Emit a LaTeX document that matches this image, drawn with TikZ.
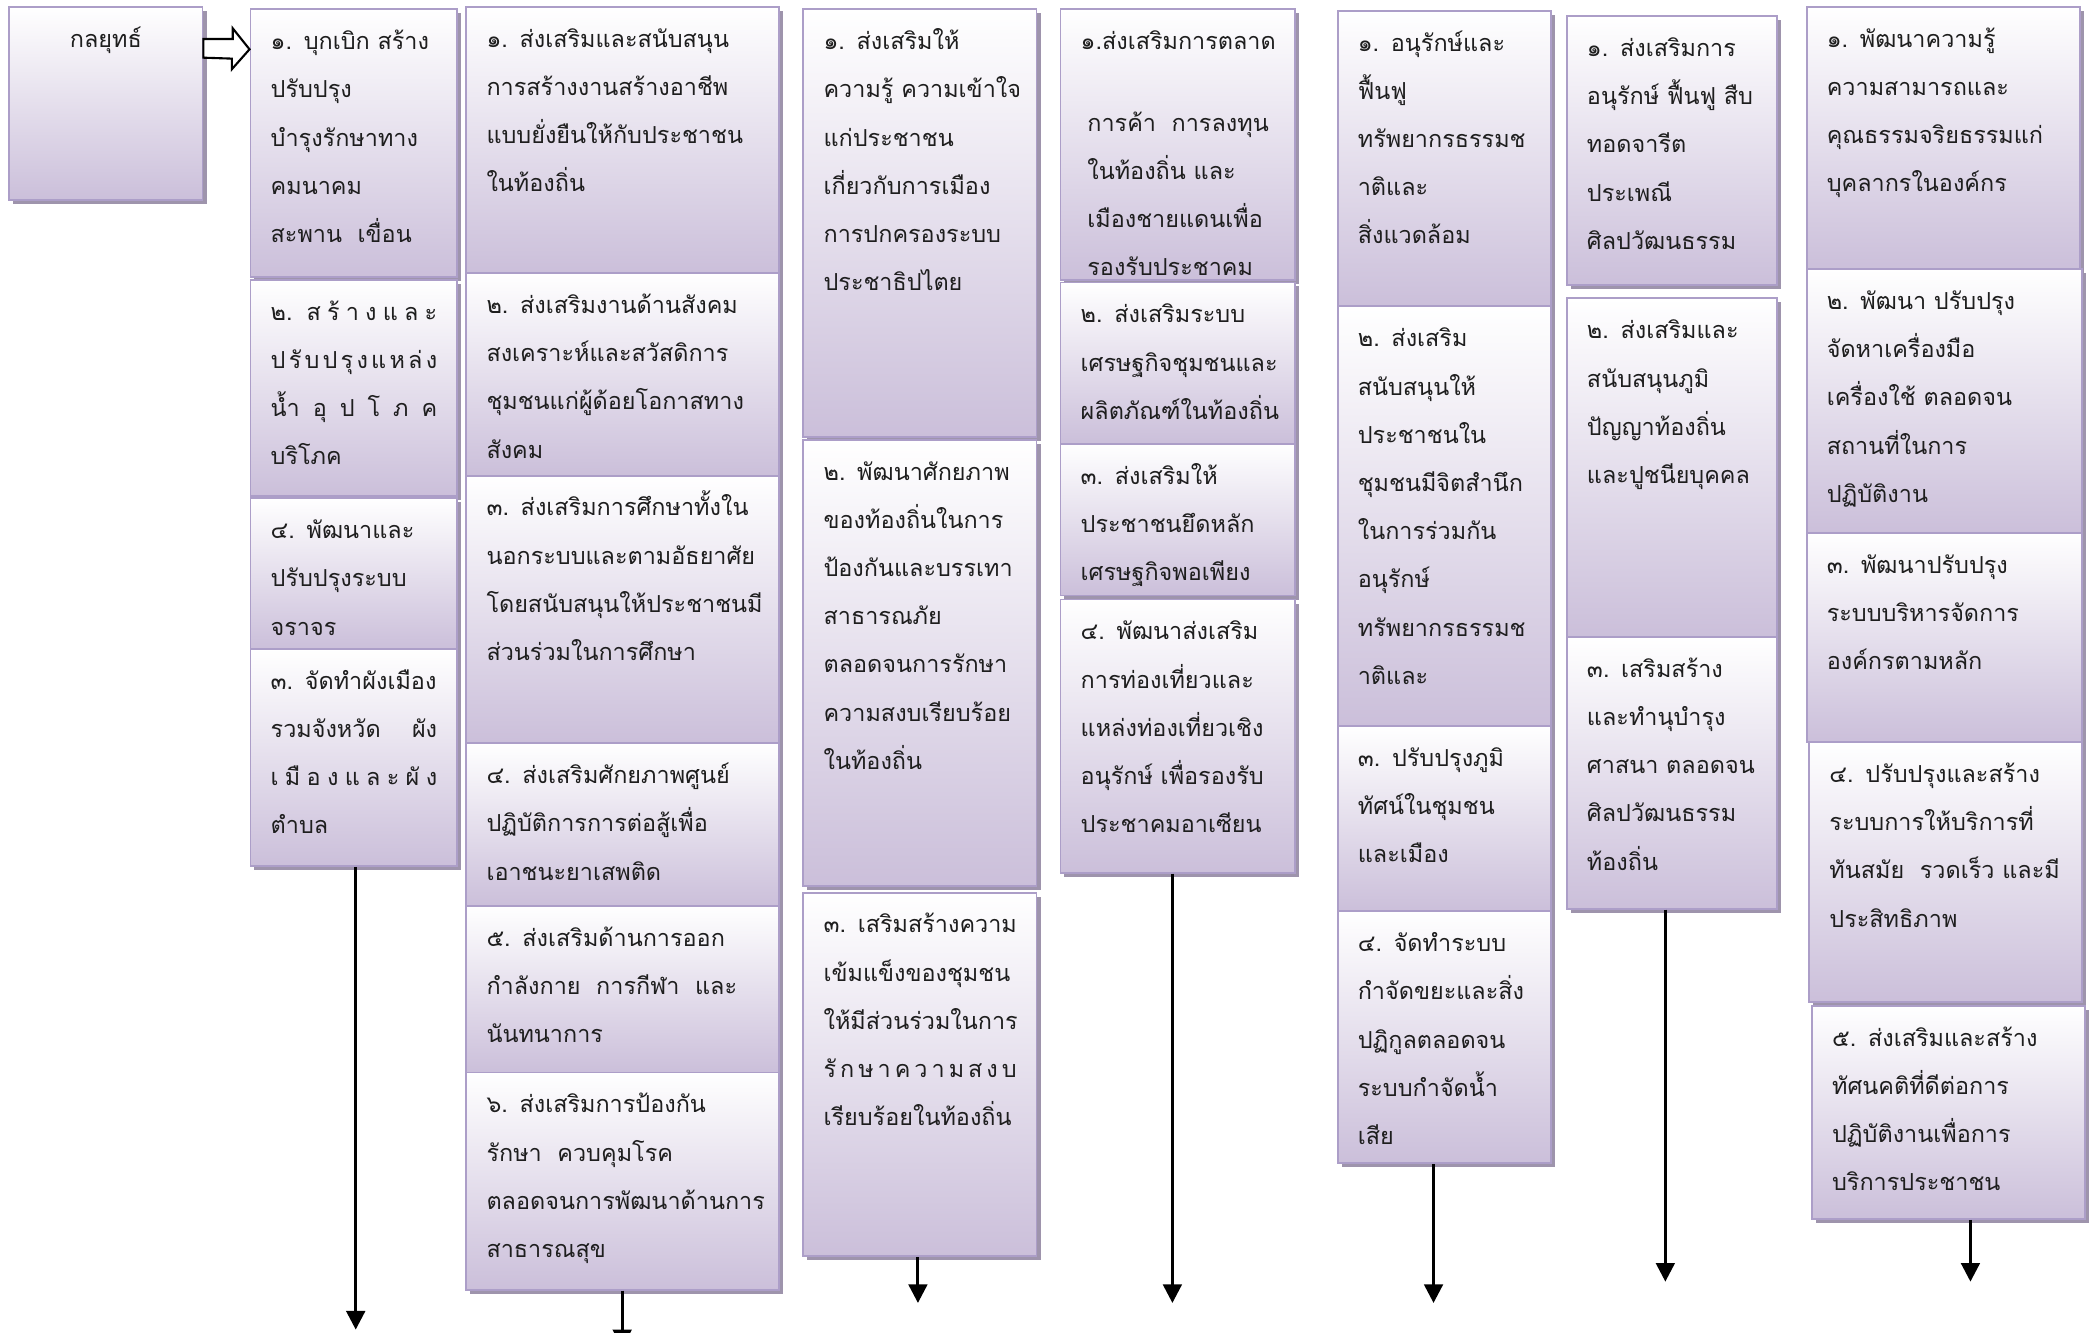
\documentclass[tikz,border=0pt]{standalone}
\usepackage{fontspec}
\newfontfamily\thaifont[Script=Thai]{Loma}
\usetikzlibrary{fit,shadows,arrows.meta}
\definecolor{boxbot}{RGB}{203,191,218}
\definecolor{boxline}{RGB}{172,158,200}
\definecolor{shadowc}{RGB}{158,148,172}
\definecolor{txtc}{RGB}{30,30,30}
\tikzset{
every picture/.style={
line width=1pt
},
tbox/.style={draw=boxline, line width=0.8pt, top color=white, bottom color=boxbot,
  inner sep=0pt, drop shadow={shadow xshift=0.6mm, shadow yshift=-0.6mm, fill=shadowc, opacity=1}},
boxtext/.style={font=\thaifont\fontsize{10pt}{20.6pt}\selectfont, text=txtc, align=left, inner sep=0pt},
flow/.style={line width=1.3pt, -{Triangle[length=2.8mm, width=2.8mm]}},
bigarrow/.style={draw=black, fill=white, line width=0.9pt, line join=miter}
}
% spread a line over the box width (text width has 4mm of slack)
\newcommand{\spr}[1]{\leavevmode\hbox to\dimexpr\linewidth-4mm\relax{#1}}
% box: name, x1, y1, x2, y2, text
\newcommand{\tbox}[6]{%
  \node[tbox, fit={(#2,#3) (#4,#5)}] (#1) {};
  \pgfmathsetlengthmacro{\tw}{(#4-#2-10)*0.2mm}
  \begin{scope}
    \clip (#1.south west) rectangle (#1.north east);
    \node[boxtext, text width=\tw, anchor=base west] (#1-t) at ([shift={(15,31)}]#1.north west) {#6};
  \end{scope}
}

\begin{document}
\begin{tikzpicture}[x=0.02cm, y=-0.02cm]
\useasboundingbox (0,0) rectangle (1568,1000);

% strategy box and block arrow
\node[tbox, fit={(7,5) (152,150)}] (kl) {};
\node[boxtext, anchor=base] (kl-t) at ([shift={(0,31)}]kl.north) {กลยุทธ์};

% column 1
\tbox{b11}{188}{7}{343}{208}{๑. บุกเบิก สร้าง\\ปรับปรุง\\บำรุงรักษาทาง\\คมนาคม\\สะพาน\ \ เขื่อน}
\tbox{b12}{188}{210}{343}{372}{\spr{๒.\ \hfill ส\hfill ร้\hfill า\hfill ง\hfill แ\hfill ล\hfill ะ}\\\spr{ป\hfill รั\hfill บ\hfill ป\hfill รุ\hfill ง\hfill แ\hfill ห\hfill ล่\hfill ง}\\\spr{น้ำ\hfill อุ\hfill ป\hfill โ\hfill ภ\hfill ค}\\บริโภค}
\tbox{b13}{188}{374}{343}{487}{๔. พัฒนาและ\\ปรับปรุงระบบ\\จราจร}
\tbox{b14}{188}{487}{343}{650}{๓. จัดทำผังเมือง\\\spr{รวมจังหวัด\hfill ผัง}\\\spr{เ\hfill มื\hfill อ\hfill ง\hfill แ\hfill ล\hfill ะ\hfill ผั\hfill ง}\\ตำบล}

\draw[bigarrow] ([shift={(0,25)}]kl.north east) -- ++(22,0) -- ++(0,-8) -- (b11.west |- 0,37)
  -- (174,52) -- (174,44) -- ([shift={(0,39)}]kl.north east) -- cycle;

% column 2
\tbox{b21}{350}{5}{585}{205}{๑. ส่งเสริมและสนับสนุน\\การสร้างงานสร้างอาชีพ\\แบบยั่งยืนให้กับประชาชน\\ในท้องถิ่น}
\tbox{b22}{350}{205}{585}{357}{๒. ส่งเสริมงานด้านสังคม\\สงเคราะห์และสวัสดิการ\\ชุมชนแก่ผู้ด้อยโอกาสทาง\\สังคม}
\tbox{b23}{350}{357}{585}{558}{๓. ส่งเสริมการศึกษาทั้งใน\\นอกระบบและตามอัธยาศัย\\โดยสนับสนุนให้ประชาชนมี\\ส่วนร่วมในการศึกษา}
\tbox{b24}{350}{558}{585}{680}{๔. ส่งเสริมศักยภาพศูนย์\\ปฏิบัติการการต่อสู้เพื่อ\\เอาชนะยาเสพติด}
\tbox{b25}{350}{680}{585}{805}{๕. ส่งเสริมด้านการออก\\กำลังกาย\ \ การกีฬา\ \ และ\\นันทนาการ}
\tbox{b26}{350}{805}{585}{968}{๖. ส่งเสริมการป้องกัน\\รักษา\ \ ควบคุมโรค\\ตลอดจนการพัฒนาด้านการ\\สาธารณสุข}

% column 3
\tbox{b31}{603}{7}{778}{328}{๑. ส่งเสริมให้\\ความรู้ ความเข้าใจ\\แก่ประชาชน\\เกี่ยวกับการเมือง\\การปกครองระบบ\\ประชาธิปไตย}
\tbox{b32}{603}{330}{778}{665}{๒. พัฒนาศักยภาพ\\ของท้องถิ่นในการ\\ป้องกันและบรรเทา\\สาธารณภัย\\ตลอดจนการรักษา\\ความสงบเรียบร้อย\\ในท้องถิ่น}
\tbox{b33}{603}{670}{778}{943}{๓. เสริมสร้างความ\\เข้มแข็งของชุมชน\\ให้มีส่วนร่วมในการ\\\spr{รั\hfill ก\hfill ษ\hfill า\hfill ค\hfill ว\hfill า\hfill ม\hfill ส\hfill ง\hfill บ}\\เรียบร้อยในท้องถิ่น}

% column 4
\tbox{b41}{796}{7}{972}{210}{๑.ส่งเสริมการตลาด\\[5mm]\hspace{1mm}การค้า\ \ การลงทุน\\\hspace{1mm}ในท้องถิ่น และ\\\hspace{1mm}เมืองชายแดนเพื่อ\\\hspace{1mm}รองรับประชาคม}
\tbox{b42}{796}{212}{972}{333}{๒. ส่งเสริมระบบ\\เศรษฐกิจชุมชนและ\\ผลิตภัณฑ์ในท้องถิ่น}
\tbox{b43}{796}{333}{972}{447}{๓. ส่งเสริมให้\\ประชาชนยึดหลัก\\เศรษฐกิจพอเพียง}
\tbox{b44}{796}{450}{972}{655}{๔. พัฒนาส่งเสริม\\การท่องเที่ยวและ\\แหล่งท่องเที่ยวเชิง\\อนุรักษ์ เพื่อรองรับ\\ประชาคมอาเซียน}

% column 5
\tbox{b51}{1004}{8}{1164}{230}{๑. อนุรักษ์และ\\ฟื้นฟู\\ทรัพยากรธรรมช\\าติและ\\สิ่งแวดล้อม}
\tbox{b52}{1004}{230}{1164}{545}{๒. ส่งเสริม\\สนับสนุนให้\\ประชาชนใน\\ชุมชนมีจิตสำนึก\\ในการร่วมกัน\\อนุรักษ์\\ทรัพยากรธรรมช\\าติและ}
\tbox{b53}{1004}{545}{1164}{684}{๓. ปรับปรุงภูมิ\\ทัศน์ในชุมชน\\และเมือง}
\tbox{b54}{1004}{684}{1164}{873}{๔. จัดทำระบบ\\กำจัดขยะและสิ่ง\\ปฏิกูลตลอดจน\\ระบบกำจัดน้ำ\\เสีย}

% column 6
\tbox{b61}{1176}{12}{1334}{214}{๑. ส่งเสริมการ\\อนุรักษ์ ฟื้นฟู สืบ\\ทอดจารีต\\ประเพณี\\ศิลปวัฒนธรรม}
\tbox{b62}{1176}{224}{1334}{478}{๒. ส่งเสริมและ\\สนับสนุนภูมิ\\ปัญญาท้องถิ่น\\และปูชนียบุคคล}
\tbox{b63}{1176}{478}{1334}{682}{๓. เสริมสร้าง\\และทำนุบำรุง\\ศาสนา ตลอดจน\\ศิลปวัฒนธรรม\\ท้องถิ่น}

% column 7
\tbox{b71}{1356}{5}{1561}{202}{๑. พัฒนาความรู้\\ความสามารถและ\\คุณธรรมจริยธรรมแก่\\บุคลากรในองค์กร}
\tbox{b72}{1356}{202}{1563}{400}{๒. พัฒนา ปรับปรุง\\จัดหาเครื่องมือ\\เครื่องใช้ ตลอดจน\\สถานที่ในการ\\ปฏิบัติงาน}
\tbox{b73}{1356}{400}{1563}{557}{๓. พัฒนาปรับปรุง\\ระบบบริหารจัดการ\\องค์กรตามหลัก}
\tbox{b74}{1358}{557}{1563}{752}{๔. ปรับปรุงและสร้าง\\ระบบการให้บริการที่\\ทันสมัย\ \ รวดเร็ว และมี\\ประสิทธิภาพ}
\tbox{b75}{1360}{755}{1565}{915}{๕. ส่งเสริมและสร้าง\\ทัศนคติที่ดีต่อการ\\ปฏิบัติงานเพื่อการ\\บริการประชาชน}

% arrows down
\foreach \n/\x/\y in {e1/267/998, e2/467/1012, e3/689/978, e4/880/978, e5/1076/978, e6/1250/962, e7/1479/962}
  \coordinate (\n) at (\x,\y);
\foreach \b/\e in {b14/e1, b26/e2, b33/e3, b44/e4, b54/e5, b63/e6, b75/e7}{
  \draw[flow] (\b.south -| \e) -- (\e);
}
\end{tikzpicture}
\end{document}
